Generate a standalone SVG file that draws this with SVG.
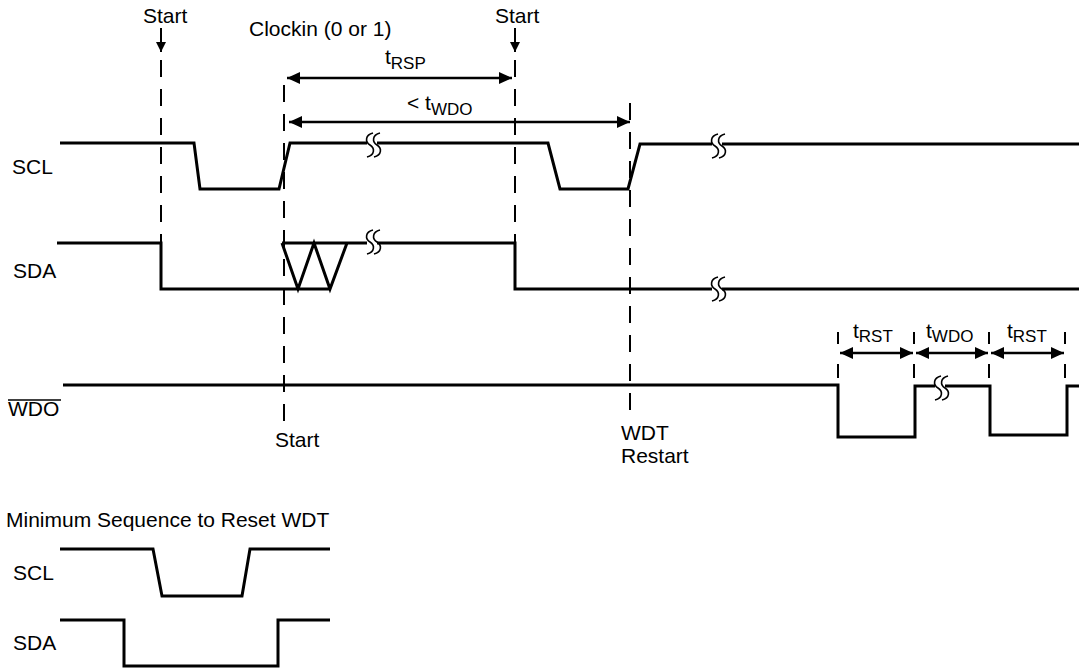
<svg xmlns="http://www.w3.org/2000/svg" width="1079" height="670" viewBox="0 0 1079 670">
<style>
text{font-family:"Liberation Sans",Arial,sans-serif;font-size:21px;fill:#000}
.sub{font-size:17px}
.sig{fill:none;stroke:#000;stroke-width:3;stroke-linejoin:miter}
.dash{fill:none;stroke:#000;stroke-width:2;stroke-dasharray:17 12}
.tick{fill:none;stroke:#000;stroke-width:2}
.dim{fill:none;stroke:#000;stroke-width:2.5;marker-start:url(#ah);marker-end:url(#ah)}
.arr{fill:none;stroke:#000;stroke-width:2;marker-end:url(#ahs)}
.brk{fill:none;stroke:#000;stroke-width:1.6}
</style>
<defs>
<marker id="ah" viewBox="0 0 13 12" refX="13" refY="6" markerWidth="13" markerHeight="12" markerUnits="userSpaceOnUse" orient="auto-start-reverse"><path d="M0,0 L13,6 L0,12 Z" fill="#000"/></marker>
<marker id="ahs" viewBox="0 0 10 10" refX="10" refY="5" markerWidth="10" markerHeight="10" markerUnits="userSpaceOnUse" orient="auto"><path d="M0,0 L10,5 L0,10 Z" fill="#000"/></marker>
<path id="wv" d="M1,-12 C-7,-10 -7,-3 -2,0 C3,3 3,10 -5,12 M8,-12 C0,-10 0,-3 5,0 C10,3 10,10 2,12"/>
</defs>

<g id="labels">
<text x="143" y="23">Start</text>
<text x="495" y="23">Start</text>
<text x="249" y="36">Clockin (0 or 1)</text>
<text x="12" y="174">SCL</text>
<text x="13" y="278">SDA</text>
<text x="8" y="416">WDO</text>
<line x1="8" y1="400" x2="61" y2="400" stroke="#000" stroke-width="1.5"/>
<text x="275" y="447">Start</text>
<text x="621" y="440">WDT</text>
<text x="621" y="463">Restart</text>
<text x="385" y="64">t<tspan class="sub" dy="5">RSP</tspan></text>
<text x="407" y="110">&lt; t<tspan class="sub" dy="5">WDO</tspan></text>
<text x="853" y="338">t<tspan class="sub" dy="4">RST</tspan></text>
<text x="926" y="338">t<tspan class="sub" dy="4">WDO</tspan></text>
<text x="1007" y="338">t<tspan class="sub" dy="4">RST</tspan></text>
<text x="6" y="527">Minimum Sequence to Reset WDT</text>
<text x="13" y="580">SCL</text>
<text x="13" y="650">SDA</text>
</g>

<g id="connectors">
<line class="arr" x1="161" y1="28" x2="161" y2="52"/>
<line class="arr" x1="515" y1="28" x2="515" y2="52"/>
<line class="dash" x1="161" y1="60" x2="161" y2="243"/>
<line class="dash" x1="515" y1="60" x2="515" y2="243"/>
<line class="dash" x1="284" y1="85" x2="284" y2="422"/>
<line class="dash" x1="630" y1="103" x2="630" y2="416"/>
<line class="dim" x1="287" y1="78" x2="512" y2="78"/>
<line class="dim" x1="289" y1="122" x2="630" y2="122"/>
<path class="tick" d="M838,332 V344 M838,364 V378 M914,332 V344 M914,364 V378 M989,332 V344 M989,364 V378 M1065,332 V344 M1065,364 V378"/>
<line class="dim" x1="840" y1="353" x2="913" y2="353"/>
<line class="dim" x1="916" y1="353" x2="988" y2="353"/>
<line class="dim" x1="991" y1="353" x2="1064" y2="353"/>
</g>

<g id="scl">
<path class="sig" d="M60,143 H194 L200,189 H279 L290,143 H367 M377,143 H548 L560,189 H628 L640,144 H712 M722,144 H1079"/>
<use href="#wv" class="brk" x="372" y="145"/>
<use href="#wv" class="brk" x="717" y="146"/>
</g>

<g id="sda">
<path class="sig" d="M57,243 H161 V289 H330 M282,243 L298,289 L314,243 L330,289 L347,243 M282,243 H367 M377,243 H515 V289 H712 M722,289 H1079"/>
<use href="#wv" class="brk" x="372" y="242"/>
<use href="#wv" class="brk" x="717" y="289"/>
</g>

<g id="wdo">
<path class="sig" d="M63,385 H838 V437 H915 V386 H935 M945,386 H990 V435 H1067 V386 H1079"/>
<use href="#wv" class="brk" x="940" y="388"/>
</g>

<g id="min-scl">
<path class="sig" d="M60,549 H153 L162,596 H242 L250,549 H330"/>
</g>
<g id="min-sda">
<path class="sig" d="M60,620 H124 V666 H278 V620 H330"/>
</g>
</svg>
